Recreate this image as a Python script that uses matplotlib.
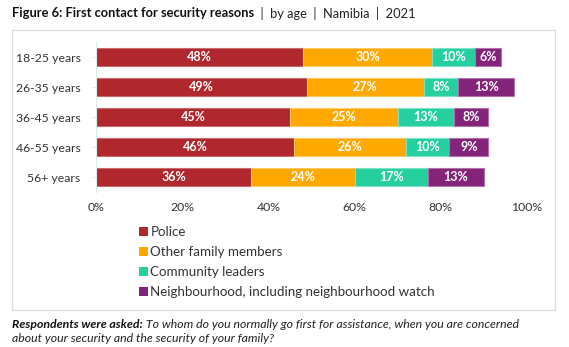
import matplotlib.pyplot as plt
from matplotlib.patches import Rectangle, Patch

ages = ['18-25 years', '26-35 years', '36-45 years', '46-55 years', '56+ years']
police = [48, 49, 45, 46, 36]
family = [30, 27, 25, 26, 24]
community = [10, 8, 13, 10, 17]
neighbourhood = [6, 13, 8, 9, 13]

series_names = ['Police', 'Other family members', 'Community leaders',
                'Neighbourhood, including neighbourhood watch']
colors = ['#B0272D', '#FFA800', '#26CFA0', '#83247A']
edges = ['#C86A6E', '#FFC860', '#7FE2C6', '#B070A8']

plt.rcParams['font.family'] = ['Lato', 'DejaVu Sans']

fig = plt.figure(figsize=(5.69, 3.47), dpi=100)
ax = fig.add_axes([96 / 569, 1 - 192 / 347, 431 / 569, 150 / 347])

ypos = list(range(len(ages)))
left = [0] * len(ages)
for vals, col, ec, name in zip([police, family, community, neighbourhood], colors, edges, series_names):
    bars = ax.barh(ypos, vals, left=left, height=0.57, color=col, edgecolor=ec, linewidth=0.8, label=name)
    ax.bar_label(bars, labels=[f'{v}%' for v in vals], label_type='center',
                 color='white', fontsize=9, fontweight='bold')
    left = [l + v for l, v in zip(left, vals)]

ax.set_xlim(0, 100)
ax.set_ylim(4.5, -0.5)
ax.set_yticks(ypos)
ax.set_yticklabels(ages, fontsize=8.8, color='#333333')
ax.set_xticks([0, 20, 40, 60, 80, 100])
ax.set_xticklabels([f'{t}%' for t in [0, 20, 40, 60, 80, 100]], fontsize=8.8, color='#333333')
ax.tick_params(axis='x', length=0, pad=7)
ax.tick_params(axis='y', length=3, color='#d6efe8', pad=8)
for s in ['top', 'right', 'bottom']:
    ax.spines[s].set_visible(False)
ax.spines['left'].set_color('#d6efe8')

handles = [Patch(facecolor=c, label=n) for c, n in zip(colors, series_names)]
fig.legend(handles=handles, loc='upper left', bbox_to_anchor=(139 / 569, 1 - 226 / 347),
           frameon=False, fontsize=9.6, handlelength=0.65, handleheight=0.65,
           handletextpad=0.2, labelspacing=0.6, borderpad=0, borderaxespad=0,
           labelcolor='#333333')

# light frame around the chart
fig.patches.append(Rectangle((12 / 569, 1 - 310 / 347), 543 / 569, 280 / 347,
                             transform=fig.transFigure, fill=False,
                             edgecolor='#dddddd', linewidth=1))

# title
t1 = fig.text(12 / 569, 1 - 13 / 347, 'Figure 6: First contact for security reasons',
              fontsize=9.3, fontweight='bold', va='center', color='#111111')
fig.canvas.draw()
bb = t1.get_window_extent()
x2 = bb.x1 / fig.bbox.width
fig.text(x2, 1 - 13 / 347, '  |  by age  |  Namibia  |  2021', fontsize=9.3,
         va='center', color='#222222')

# footnote
f1 = fig.text(12 / 569, 1 - 324 / 347, 'Respondents were asked:', fontsize=8.8,
              fontweight='bold', style='italic', va='center', color='#111111')
fig.canvas.draw()
bb = f1.get_window_extent()
fig.text(bb.x1 / fig.bbox.width, 1 - 324 / 347,
         ' To whom do you normally go first for assistance, when you are concerned',
         fontsize=8.8, style='italic', va='center', color='#222222')
fig.text(12 / 569, 1 - 338 / 347, 'about your security and the security of your family?',
         fontsize=8.8, style='italic', va='center', color='#222222')

fig.savefig('out.png', dpi=100)
